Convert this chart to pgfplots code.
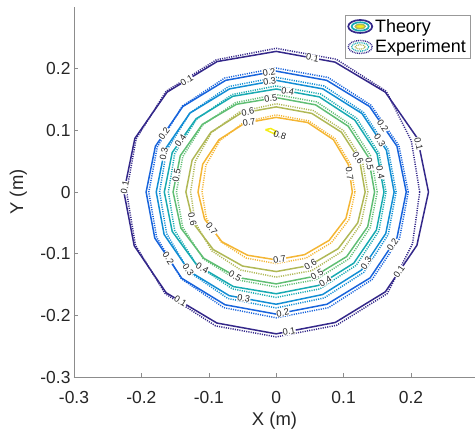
\documentclass[border=0pt]{standalone}
\usepackage{fontspec}
\setmainfont{Liberation Sans}
\usepackage{pgfplots}
\pgfplotsset{compat=1.18}

% parula-like level colours, 0.1 ... 0.8
\definecolor{c1}{RGB}{52,40,138}
\definecolor{c2}{RGB}{24,100,220}
\definecolor{c3}{RGB}{18,142,212}
\definecolor{c4}{RGB}{24,170,178}
\definecolor{c5}{RGB}{96,190,116}
\definecolor{c6}{RGB}{176,184,86}
\definecolor{c7}{RGB}{244,182,52}
\definecolor{c8}{RGB}{245,238,24}

\pgfplotsset{
  theo/.style={line width=1.5pt, forget plot, data cs=polar},
  expe/.style={line width=1.5pt, dash pattern=on 1.1pt off 1.2pt, forget plot, data cs=polar},
}
\tikzset{
  lbl/.style={sloped, fill=white, inner sep=0.3pt, text=black!85,
    font=\fontsize{9.2}{10}\selectfont},
}

\begin{document}
\begin{tikzpicture}
\begin{axis}[
  scale only axis,
  width=401bp, height=370bp,
  xmin=-0.3, xmax=0.295, ymin=-0.3, ymax=0.3,
  axis x line*=bottom, axis y line*=left,
  axis line style={black!45, line width=0.5pt},
  tick align=inside,
  major tick length=4bp,
  tick style={black!45, line width=0.5pt},
  xtick={-0.3,-0.2,-0.1,0,0.1,0.2},
  ytick={-0.3,-0.2,-0.1,0,0.1,0.2},
  /pgf/number format/assume math mode=true,
  /pgf/number format/fixed,
  /pgf/number format/precision=1,
  ticklabel style={font=\fontsize{17.5}{19}\selectfont, text=black!85},
  xticklabel style={yshift=-11bp},
  label style={font=\fontsize{18.5}{20}\selectfont, text=black!85},
  xlabel={X (m)}, ylabel={Y (m)},
  xlabel style={at={(axis description cs:0.5,-0.131)}, anchor=base},
  ylabel style={at={(axis description cs:-0.127,0.5)}, anchor=base, rotate=0},
  legend style={at={(axis description cs:1,1)}, anchor=north east,
    xshift=-5bp, yshift=-8bp, draw=black!40, line width=0.5pt,
    font=\fontsize{18}{20}\selectfont, inner sep=2pt, row sep=2pt},
  legend cell align=left,
]

% ---- experiment (dotted), polar (deg, m)
\addplot[expe, c1] coordinates {(0,.213) (22.5,.217) (45,.231) (67.5,.233) (90,.233) (112.5,.232) (135,.231) (157.5,.225) (180,.222) (202.5,.226) (225,.233) (247.5,.235) (270,.235) (292.5,.234) (315,.233) (337.5,.219) (360,.213)};
\addplot[expe, c2] coordinates {(0,.196) (22.5,.197) (45,.199) (67.5,.201) (90,.201) (112.5,.200) (135,.197) (157.5,.191) (180,.189) (202.5,.192) (225,.199) (247.5,.203) (270,.204) (292.5,.203) (315,.201) (337.5,.198) (360,.196)};
\addplot[expe, c3] coordinates {(0,.178) (22.5,.180) (45,.183) (67.5,.186) (90,.186) (112.5,.185) (135,.181) (157.5,.176) (180,.173) (202.5,.176) (225,.183) (247.5,.187) (270,.188) (292.5,.186) (315,.184) (337.5,.180) (360,.178)};
\addplot[expe, c4] coordinates {(0,.163) (22.5,.165) (45,.169) (67.5,.172) (90,.172) (112.5,.171) (135,.167) (157.5,.163) (180,.160) (202.5,.163) (225,.167) (247.5,.170) (270,.171) (292.5,.170) (315,.168) (337.5,.165) (360,.163)};
\addplot[expe, c5] coordinates {(0,.150) (22.5,.152) (45,.155) (67.5,.158) (90,.158) (112.5,.157) (135,.154) (157.5,.150) (180,.148) (202.5,.150) (225,.153) (247.5,.154) (270,.154) (292.5,.154) (315,.153) (337.5,.151) (360,.150)};
\addplot[expe, c6] coordinates {(0,.136) (22.5,.138) (45,.141) (67.5,.143) (90,.143) (112.5,.141) (135,.136) (157.5,.130) (180,.127) (202.5,.130) (225,.135) (247.5,.137) (270,.138) (292.5,.138) (315,.137) (337.5,.136) (360,.136)};
\addplot[expe, c7] coordinates {(0,.117) (22.5,.119) (45,.123) (67.5,.125) (90,.125) (112.5,.123) (135,.118) (157.5,.113) (180,.110) (202.5,.112) (225,.115) (247.5,.116) (270,.116) (292.5,.116) (315,.116) (337.5,.117) (360,.117)};

% ---- theory (solid), polar (deg, m)
\addplot[theo, c1] coordinates {(0,.226) (22.5,.227) (45,.229) (67.5,.228) (90,.228) (112.5,.229) (135,.229) (157.5,.227) (180,.226) (202.5,.228) (225,.231) (247.5,.230) (270,.230) (292.5,.229) (315,.229) (337.5,.226) (360,.226)}
  node[lbl,pos=.056]{0.1} node[lbl,pos=.211]{0.1} node[lbl,pos=.35]{0.1} node[lbl,pos=.494]{0.1}
  node[lbl,pos=.642]{0.1} node[lbl,pos=.764]{0.1} node[lbl,pos=.903]{0.1};
\addplot[theo, c2] coordinates {(0,.193) (22.5,.194) (45,.196) (67.5,.196) (90,.196) (112.5,.196) (135,.196) (157.5,.194) (180,.193) (202.5,.195) (225,.198) (247.5,.198) (270,.198) (292.5,.197) (315,.197) (337.5,.194) (360,.193)}
  node[lbl,pos=.094]{0.2} node[lbl,pos=.258]{0.2} node[lbl,pos=.417]{0.2}
  node[lbl,pos=.592]{0.2} node[lbl,pos=.758]{0.2} node[lbl,pos=.928]{0.2};
\addplot[theo, c3] coordinates {(0,.175) (22.5,.177) (45,.180) (67.5,.181) (90,.181) (112.5,.181) (135,.181) (157.5,.179) (180,.178) (202.5,.180) (225,.182) (247.5,.182) (270,.182) (292.5,.180) (315,.179) (337.5,.176) (360,.175)}
  node[lbl,pos=.078]{0.3} node[lbl,pos=.258]{0.3} node[lbl,pos=.444]{0.3}
  node[lbl,pos=.622]{0.3} node[lbl,pos=.708]{0.3} node[lbl,pos=.889]{0.3};
\addplot[theo, c4] coordinates {(0,.160) (22.5,.162) (45,.165) (67.5,.167) (90,.167) (112.5,.168) (135,.168) (157.5,.167) (180,.166) (202.5,.167) (225,.167) (247.5,.166) (270,.165) (292.5,.164) (315,.163) (337.5,.161) (360,.160)}
  node[lbl,pos=.031]{0.4} node[lbl,pos=.232]{0.4} node[lbl,pos=.417]{0.4}
  node[lbl,pos=.638]{0.4} node[lbl,pos=.828]{0.4};
\addplot[theo, c5] coordinates {(0,.146) (22.5,.148) (45,.151) (67.5,.153) (90,.153) (112.5,.154) (135,.155) (157.5,.154) (180,.153) (202.5,.153) (225,.152) (247.5,.150) (270,.149) (292.5,.148) (315,.148) (337.5,.147) (360,.146)}
  node[lbl,pos=.049]{0.5} node[lbl,pos=.258]{0.5} node[lbl,pos=.475]{0.5}
  node[lbl,pos=.689]{0.5} node[lbl,pos=.822]{0.5};
\addplot[theo, c6] coordinates {(0,.132) (22.5,.134) (45,.137) (67.5,.138) (90,.138) (112.5,.138) (135,.137) (157.5,.135) (180,.134) (202.5,.133) (225,.132) (247.5,.130) (270,.129) (292.5,.129) (315,.130) (337.5,.131) (360,.132)}
  node[lbl,pos=.068]{0.6} node[lbl,pos=.306]{0.6} node[lbl,pos=.564]{0.6} node[lbl,pos=.819]{0.6};
\addplot[theo, c7] coordinates {(0,.113) (22.5,.116) (45,.120) (67.5,.122) (90,.121) (112.5,.121) (135,.120) (157.5,.118) (180,.116) (202.5,.115) (225,.114) (247.5,.111) (270,.110) (292.5,.110) (315,.111) (337.5,.112) (360,.113)}
  node[lbl,pos=.042]{0.7} node[lbl,pos=.314]{0.7} node[lbl,pos=.603]{0.7} node[lbl,pos=.767]{0.7};
\addplot[line width=1.5pt, c8, forget plot] coordinates {(-0.016,0.101) (-0.002,0.094) (-0.001,0.099) (-0.008,0.103) (-0.016,0.101)}
  node[pos=.3, anchor=west, rotate=-18, inner sep=1pt, text=black!85, font=\fontsize{9.2}{10}\selectfont]{0.8};

% ---- legend
\addlegendimage{legend image code/.code={
  \draw[c1, line width=1.7pt] (13bp,0) ellipse (12bp and 6.5bp);
  \draw[c4, line width=1.7pt] (13bp,0) ellipse (8.5bp and 4.2bp);
  \draw[c6, line width=1.4pt, fill=c8] (13bp,0) ellipse (5bp and 2.2bp);
}}
\addlegendentry{Theory}
\addlegendimage{legend image code/.code={
  \draw[c1, line width=1.4pt, dash pattern=on 0.9pt off 0.9pt] (13bp,0) ellipse (12bp and 6.5bp);
  \draw[c4, line width=1.4pt, dash pattern=on 0.9pt off 0.9pt] (13bp,0) ellipse (8.5bp and 4.2bp);
  \draw[c6, line width=1.2pt, dash pattern=on 0.9pt off 0.9pt] (13bp,0) ellipse (5bp and 2.2bp);
}}
\addlegendentry{Experiment}
\end{axis}
\pgfresetboundingbox
\useasboundingbox ([shift={(-74bp,-54bp)}]current axis.south west) rectangle ([shift={(0bp,7bp)}]current axis.north east);
\end{tikzpicture}
\end{document}
